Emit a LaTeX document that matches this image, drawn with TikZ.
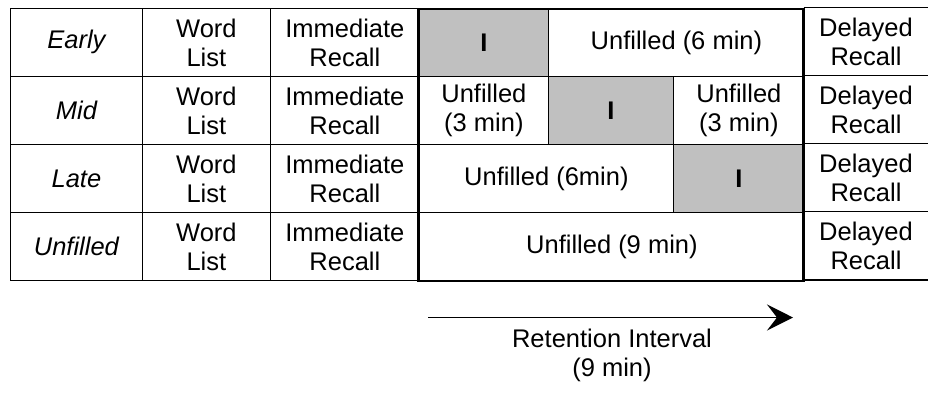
\documentclass[tikz,border=0pt]{standalone}
\usepackage{fontspec}
\setmainfont{Liberation Sans}
\usetikzlibrary{arrows.meta}
\definecolor{cellgray}{HTML}{C0C0C0}
\tikzset{
  txt/.style={font=\fontsize{25.5}{29}\selectfont, align=center, inner sep=0pt},
  cell/.style={txt, draw, line width=1.8pt, rectangle, anchor=north west, minimum height=68pt},
  gcell/.style={cell, fill=cellgray},
  thickbox/.style={draw, line width=2.8pt},
  thin/.style={line width=1.8pt},
  retarrow/.style={line width=1.4pt, -{Stealth[length=26pt,width=26pt,inset=10pt]}}
}
\begin{document}
\begin{tikzpicture}[x=1pt,y=-1pt]
\useasboundingbox (0,0) rectangle (928,392);
% left columns
\foreach \r/\lab [count=\i] in {0/Early,1/Mid,2/Late,3/Unfilled}{
  \node[cell, minimum width=132pt] (c\i a) at (9.5,{7.5+68*\r}) {\itshape\lab};
  \node[cell, minimum width=128pt] (c\i b) at (141.5,{7.5+68*\r}) {Word\\List};
  \node[cell, minimum width=149pt] (c\i c) at (269.5,{7.5+68*\r}) {Immediate\\Recall};
}
% Early row
\node[gcell, minimum width=129pt] (e1) at (418.5,7.5) {\bfseries I};
\node[cell, minimum width=256pt] (e2) at (547.5,7.5) {Unfilled (6 min)};
% Mid row
\node[cell, minimum width=129pt] (m1) at (418.5,75.5) {Unfilled\\(3 min)};
\node[gcell, minimum width=125pt] (m2) at (547.5,75.5) {\bfseries I};
\node[cell, minimum width=131pt] (m3) at (672.5,75.5) {Unfilled\\(3 min)};
% Late row
\node[cell, minimum width=254pt] (l1) at (418.5,143.5) {Unfilled (6min)};
\node[gcell, minimum width=131pt] (l2) at (672.5,143.5) {\bfseries I};
% Unfilled row
\node[cell, minimum width=385pt] (u1) at (418.5,211.5) {Unfilled (9 min)};
% thick box
\draw[thickbox] (418.5,9) rectangle (803.5,281);
% right column
\foreach \r [count=\i] in {0,1,2,3}{
  \node[txt] (d\i) at (866,{41.5+68*\r}) {Delayed\\Recall};
}
\draw[thin] (803.5,7.5) -- (930,7.5);
\draw[thin] (803.5,75.5) -- (930,75.5);
\draw[thin] (803.5,143.5) -- (930,143.5);
\draw[thin] (803.5,211.5) -- (930,211.5);
\draw[thin] (803.5,280) -- (930,280);
% arrow
\coordinate (as) at (428,317.5);
\coordinate (ae) at (793,317.5);
\draw[retarrow] (as) -- (ae);
\node[txt] (ri) at (612,355) {Retention Interval\\(9 min)};
\end{tikzpicture}
\end{document}
